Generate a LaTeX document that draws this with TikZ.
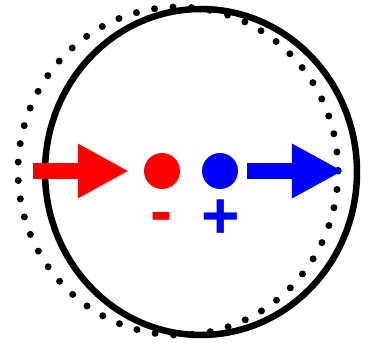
\documentclass[tikz,border=0pt]{standalone}
\usepackage{fontspec}
\setmainfont{Liberation Sans}
\usetikzlibrary{arrows.meta, positioning, calc}
\definecolor{negred}{RGB}{255,0,0}
\definecolor{posblue}{RGB}{0,0,255}

\begin{document}
\begin{tikzpicture}[x=1pt, y=-1pt,
  charge/.style={circle, minimum size=36pt, inner sep=0pt},
  sign/.style={font=\fontsize{66}{66}\selectfont\bfseries, inner sep=0pt, anchor=base},
  bigarrow/.style={line width=16pt, -{Triangle[length=51pt 0 0, width=51pt 0 0]}}]
  \useasboundingbox (0,0) rectangle (368,343);
  % Shifted shell (dotted)
  \draw[line width=7pt, line cap=round, dash pattern=on 0pt off 18.5pt] (178,171) ellipse (160 and 164);
  % Shell
  \draw[line width=6.5pt] (201,172) ellipse (156 and 163);
  % Charges
  \node[charge, fill=negred] (neg) at (162,171) {};
  \node[charge, fill=posblue] (pos) at (220,171) {};
  \node[sign, text=negred] (minus) at (161,233) {-};
  \node[sign, text=posblue] (plus) at (221,238) {+};
  % Field arrows
  \coordinate (redin) at (33,171);
  \coordinate (blueout) at (343,171);
  \draw[bigarrow, negred] (redin) -- ([xshift=-15pt]neg.west);
  \draw[bigarrow, posblue] ([xshift=9pt]pos.east) -- (blueout);
\end{tikzpicture}
\end{document}
